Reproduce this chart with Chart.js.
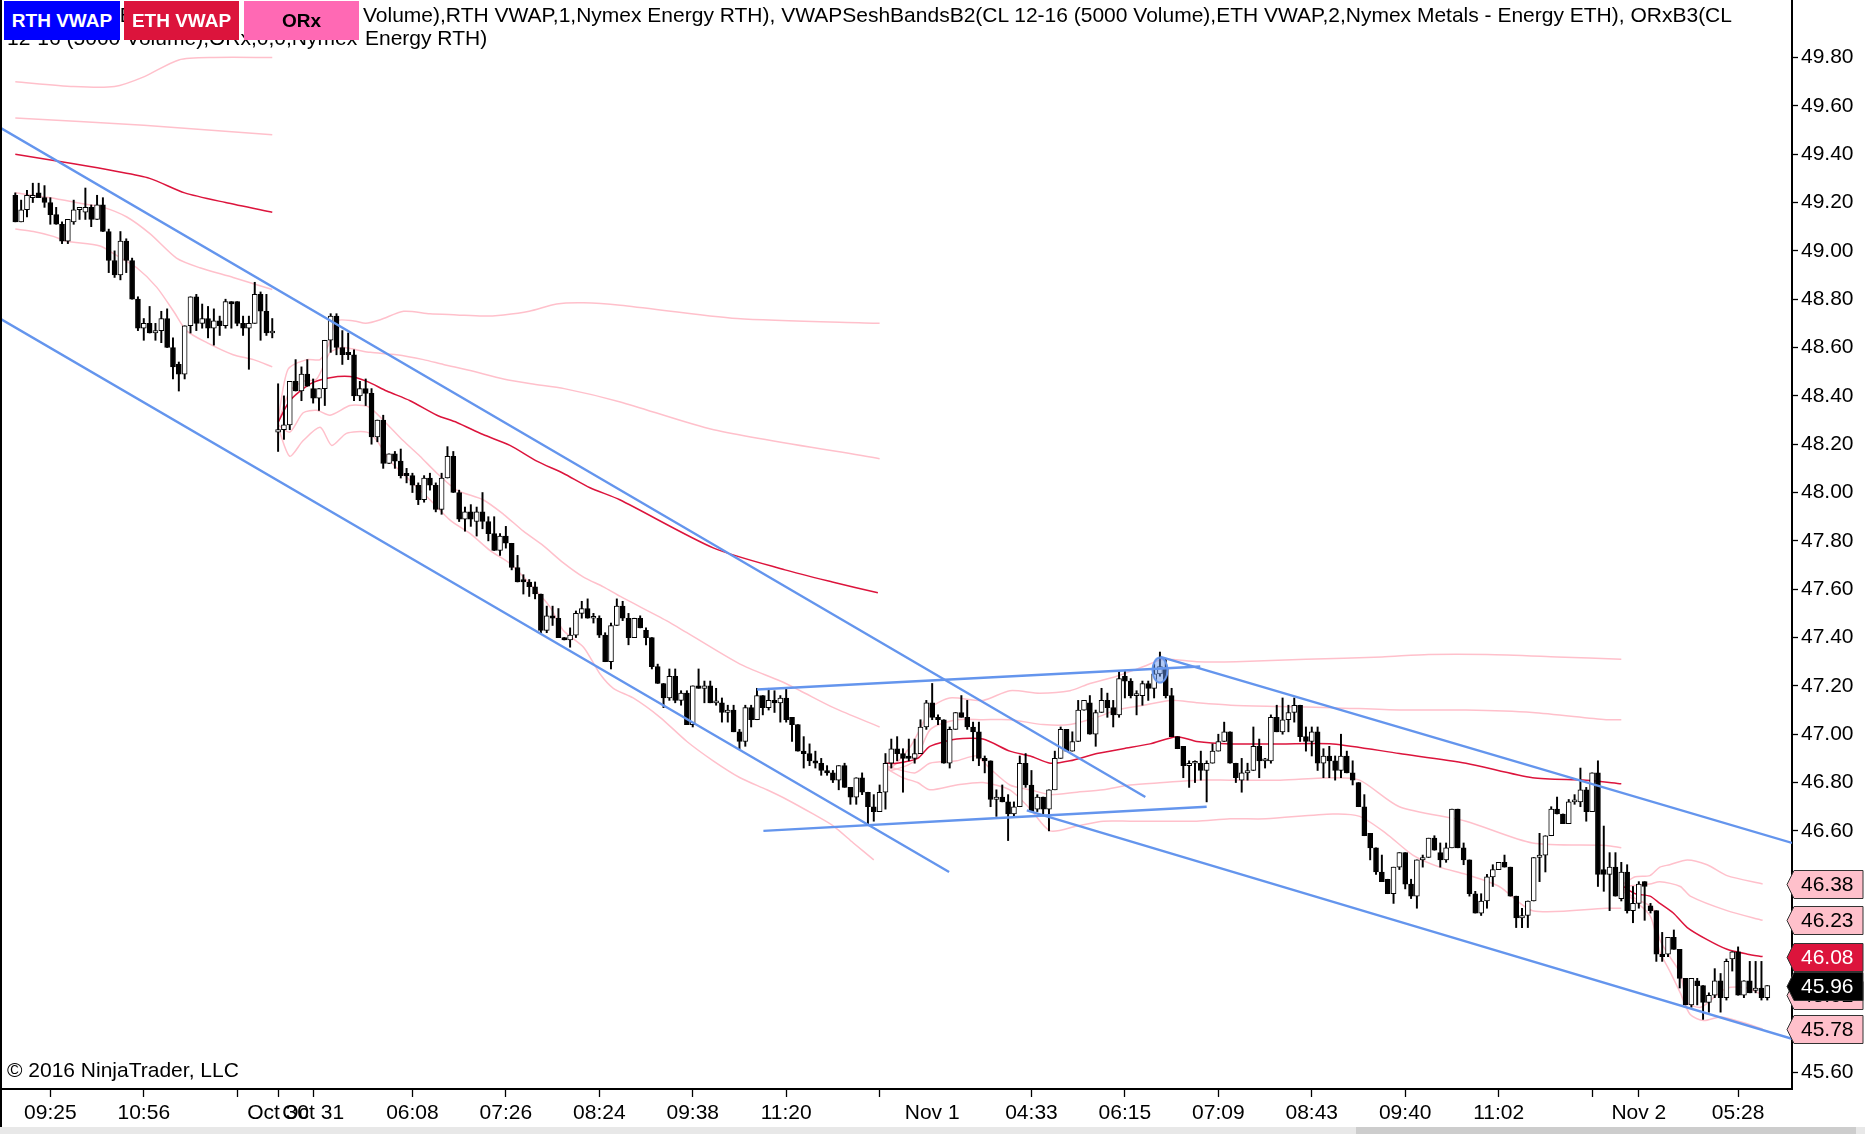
<!DOCTYPE html>
<html>
<head>
<meta charset="utf-8">
<script src="https://cdn.jsdelivr.net/npm/chart.js@4.4.1/dist/chart.umd.min.js"></script>
<style>
  html,body{margin:0;padding:0;background:#fff;}
  #wrap{position:relative;width:1865px;height:1134px;overflow:hidden;background:#fff;font-family:Arial,"Liberation Sans",sans-serif;}
  #c{position:absolute;left:0;top:0;}
  .hl{position:absolute;white-space:nowrap;font-size:21px;line-height:22px;color:#000;}
  .btn{position:absolute;top:1px;height:39px;line-height:39px;text-align:center;font-weight:bold;font-size:19px;}
  #lborder{position:absolute;left:0;top:0;width:2px;height:1127px;background:#000;}
  #scroll{position:absolute;left:0;top:1127px;width:1865px;height:7px;background:#e8e8e8;}
  #thumb{position:absolute;left:1356px;top:1127px;width:500px;height:7px;background:#cdcdcd;}
</style>
</head>
<body>
<div id="wrap">
  <canvas id="c"></canvas>
  <div class="hl" style="right:1502px;top:4px;">VWAPSeshBandsB2(CL 12-16 (5000&nbsp;</div>
  <div class="hl" style="left:363px;top:4px;">Volume),RTH VWAP,1,Nymex Energy RTH), VWAPSeshBandsB2(CL 12-16 (5000 Volume),ETH VWAP,2,Nymex Metals - Energy ETH), ORxB3(CL</div>
  <div class="hl" style="right:1502px;top:27px;">12-16 (5000 Volume),ORx,0,0,Nymex&nbsp;</div>
  <div class="hl" style="left:365px;top:27px;">Energy RTH)</div>
  <div class="btn" style="left:4px;width:116px;background:#0000FF;color:#fff;">RTH VWAP</div>
  <div class="btn" style="left:124px;width:115px;background:#DC143C;color:#fff;">ETH VWAP</div>
  <div class="btn" style="left:244px;width:115px;background:#FF69B4;color:#000;">ORx</div>
  <div class="hl" style="left:7px;top:1059px;">© 2016 NinjaTrader, LLC</div>
  <div id="lborder"></div>
  <div id="scroll"></div>
  <div id="thumb"></div>
</div>
<script>
// ---------- candle data (bar index 1..301) ----------
const opens = [
49.23,49.12,49.17,49.22,49.24,49.22,49.20,49.15,49.11,49.04,
49.12,49.17,49.16,49.18,49.13,49.19,49.08,48.96,48.90,49.04,
48.96,48.80,48.68,48.70,48.66,48.67,48.72,48.60,48.53,48.49,
48.69,48.81,48.70,48.72,48.68,48.71,48.69,48.79,48.79,48.70,
48.68,48.70,48.82,48.75,48.66,48.25,48.26,48.28,48.46,48.42,
48.49,48.43,48.39,48.43,48.63,48.73,48.60,48.58,48.57,48.40,
48.43,48.41,48.23,48.30,48.12,48.16,48.13,48.08,48.07,48.03,
47.97,48.06,48.03,47.93,48.06,48.15,48.00,47.89,47.92,47.88,
47.92,47.88,47.83,47.76,47.82,47.79,47.69,47.64,47.63,47.61,
47.58,47.43,47.49,47.48,47.40,47.39,47.41,47.50,47.52,47.48,
47.48,47.41,47.30,47.45,47.53,47.48,47.40,47.48,47.43,47.40,
47.28,47.21,47.15,47.24,47.14,47.17,47.04,47.20,47.19,47.20,
47.13,47.13,47.09,47.10,47.01,46.97,47.11,47.06,47.16,47.11,
47.14,47.13,47.15,47.07,47.04,46.93,46.92,46.89,46.88,46.85,
46.84,46.81,46.87,46.78,46.74,46.82,46.76,46.70,46.68,46.76,
46.88,46.94,46.92,46.91,46.90,46.92,47.03,47.13,47.07,47.06,
46.88,47.02,47.09,47.07,47.03,47.01,46.90,46.89,46.73,46.74,
46.72,46.67,46.70,46.88,46.79,46.69,46.74,46.69,46.77,46.90,
47.02,46.93,46.97,47.10,47.13,47.00,47.09,47.14,47.11,47.08,
47.24,47.22,47.16,47.16,47.21,47.19,47.25,47.27,47.16,46.99,
46.95,46.87,46.88,46.88,46.85,46.88,46.93,46.97,47.01,46.88,
46.81,46.84,46.85,46.95,46.89,46.89,47.07,47.01,47.06,47.09,
47.12,46.99,46.97,47.01,46.88,46.91,46.89,46.85,46.91,46.84,
46.80,46.70,46.59,46.53,46.43,46.40,46.34,46.45,46.51,46.38,
46.33,46.48,46.49,46.57,46.51,46.48,46.53,46.69,46.53,46.48,
46.34,46.26,46.31,46.41,46.44,46.47,46.45,46.33,46.24,46.25,
46.31,46.49,46.50,46.58,46.69,46.67,46.63,46.72,46.72,46.77,
46.68,46.84,46.44,46.42,46.45,46.32,46.43,46.27,46.30,46.39,
46.29,46.27,46.09,46.09,46.16,46.11,45.99,45.88,45.98,45.96,
45.89,45.92,45.98,45.91,46.07,46.10,45.92,45.98,45.94,45.95,45.91];
const highs = [
49.24,49.21,49.25,49.28,49.28,49.27,49.22,49.18,49.12,49.13,
49.21,49.18,49.26,49.19,49.23,49.22,49.09,49.00,49.08,49.05,
48.97,48.81,48.72,48.77,48.70,48.75,48.76,48.64,48.54,48.69,
48.81,48.82,48.78,48.77,48.76,48.73,48.80,48.79,48.79,48.73,
48.73,48.87,48.83,48.82,48.72,48.45,48.40,48.46,48.55,48.52,
48.55,48.47,48.43,48.63,48.74,48.74,48.67,48.66,48.59,48.46,
48.47,48.43,48.30,48.32,48.16,48.17,48.18,48.10,48.08,48.04,
48.07,48.08,48.04,48.08,48.19,48.17,48.01,47.94,47.95,47.94,
48.00,47.90,47.90,47.83,47.86,47.79,47.74,47.66,47.64,47.63,
47.58,47.53,47.53,47.52,47.40,47.44,47.51,47.55,47.56,47.50,
47.49,47.42,47.46,47.56,47.55,47.50,47.48,47.49,47.44,47.40,
47.29,47.21,47.27,47.27,47.18,47.18,47.20,47.27,47.22,47.22,
47.19,47.15,47.12,47.12,47.02,47.12,47.12,47.19,47.16,47.19,
47.18,47.16,47.19,47.07,47.04,46.99,46.96,46.93,46.90,46.87,
46.85,46.87,46.88,46.78,46.82,46.84,46.76,46.75,46.79,46.92,
46.98,46.99,46.94,46.98,46.98,47.06,47.14,47.21,47.08,47.06,
47.03,47.09,47.16,47.14,47.05,47.05,46.91,46.89,46.77,46.79,
46.75,46.72,46.91,46.92,46.85,46.75,46.74,46.77,46.93,47.03,
47.02,47.01,47.14,47.14,47.16,47.10,47.19,47.17,47.14,47.26,
47.26,47.23,47.18,47.22,47.22,47.29,47.34,47.31,47.19,46.99,
46.95,46.89,46.89,46.93,46.89,46.96,47.00,47.05,47.01,46.88,
46.90,46.88,47.03,46.98,46.90,47.08,47.12,47.15,47.12,47.15,
47.12,47.03,47.03,47.03,46.94,46.95,46.91,47.00,46.93,46.89,
46.80,46.75,46.59,46.53,46.50,46.40,46.45,46.51,46.51,46.40,
46.48,46.50,46.57,46.58,46.55,46.55,46.69,46.69,46.55,46.48,
46.35,46.34,46.42,46.46,46.47,46.50,46.45,46.33,46.28,46.31,
46.49,46.59,46.58,46.70,46.74,46.67,46.73,46.75,46.86,46.78,
46.84,46.89,46.62,46.51,46.51,46.47,46.46,46.37,46.39,46.39,
46.30,46.27,46.18,46.16,46.19,46.11,45.99,45.99,45.99,45.96,
45.93,46.03,46.01,46.07,46.10,46.12,45.98,46.06,46.06,46.06,45.96];
const lows = [
49.12,49.12,49.14,49.20,49.22,49.18,49.11,49.11,49.03,49.03,
49.11,49.13,49.13,49.10,49.13,49.08,48.91,48.89,48.88,48.91,
48.80,48.67,48.63,48.66,48.63,48.62,48.60,48.47,48.42,48.47,
48.66,48.67,48.68,48.64,48.61,48.65,48.68,48.68,48.69,48.65,
48.51,48.70,48.63,48.65,48.64,48.17,48.22,48.26,48.42,48.38,
48.44,48.37,48.34,48.36,48.58,48.57,48.53,48.55,48.38,48.38,
48.36,48.20,48.21,48.10,48.12,48.10,48.06,48.04,48.00,47.95,
47.96,48.01,47.92,47.91,48.06,48.00,47.88,47.84,47.86,47.82,
47.85,47.80,47.76,47.74,47.77,47.68,47.63,47.58,47.57,47.56,
47.42,47.42,47.45,47.40,47.39,47.36,47.40,47.48,47.48,47.46,
47.40,47.30,47.27,47.45,47.47,47.37,47.40,47.44,47.37,47.27,
47.21,47.11,47.14,47.13,47.12,47.04,47.03,47.19,47.13,47.13,
47.12,47.05,47.05,47.01,46.94,46.95,47.03,47.06,47.08,47.10,
47.09,47.05,47.05,46.97,46.93,46.86,46.87,46.86,46.83,46.83,
46.80,46.77,46.78,46.71,46.71,46.75,46.63,46.64,46.68,46.69,
46.86,46.89,46.76,46.89,46.88,46.92,47.02,47.06,47.04,46.88,
46.86,47.02,47.07,47.02,46.89,46.87,46.84,46.70,46.66,46.72,
46.56,46.66,46.70,46.78,46.68,46.68,46.67,46.60,46.77,46.90,
46.93,46.93,46.97,47.10,47.00,46.95,47.09,47.07,47.03,47.07,
47.15,47.15,47.08,47.12,47.14,47.15,47.24,47.15,46.99,46.94,
46.82,46.78,46.80,46.81,46.72,46.88,46.93,46.97,46.88,46.80,
46.76,46.81,46.85,46.82,46.86,46.88,47.01,47.00,47.01,47.05,
46.97,46.93,46.91,46.85,46.82,46.82,46.81,46.82,46.84,46.79,
46.70,46.58,46.48,46.42,46.39,46.34,46.30,46.44,46.36,46.32,
46.28,46.45,46.49,46.52,46.45,46.47,46.53,46.53,46.46,46.33,
46.26,46.25,46.28,46.37,46.44,46.45,46.33,46.20,46.20,46.20,
46.31,46.39,46.43,46.58,46.67,46.63,46.63,46.71,46.70,46.64,
46.68,46.37,46.35,46.27,46.33,46.31,46.26,46.22,46.28,46.23,
46.26,46.06,46.06,46.08,46.11,45.95,45.88,45.87,45.88,45.82,
45.85,45.91,45.85,45.90,46.02,45.92,45.91,45.93,45.93,45.90,45.90];
const closes = [
49.12,49.17,49.23,49.23,49.22,49.20,49.15,49.11,49.04,49.13,
49.17,49.18,49.18,49.13,49.19,49.08,48.96,48.90,49.04,48.96,
48.80,48.68,48.70,48.66,48.67,48.72,48.60,48.52,48.49,48.69,
48.81,48.70,48.72,48.68,48.71,48.69,48.79,48.78,48.70,48.68,
48.70,48.82,48.75,48.66,48.66,48.26,48.28,48.46,48.42,48.49,
48.44,48.39,48.43,48.63,48.73,48.60,48.57,48.57,48.40,48.43,
48.41,48.23,48.30,48.12,48.16,48.13,48.07,48.07,48.03,47.97,
48.06,48.03,47.93,48.06,48.15,48.00,47.89,47.92,47.89,47.92,
47.88,47.83,47.76,47.82,47.79,47.69,47.63,47.63,47.61,47.58,
47.43,47.49,47.48,47.40,47.39,47.41,47.50,47.52,47.48,47.48,
47.41,47.30,47.45,47.53,47.48,47.40,47.48,47.44,47.40,47.28,
47.21,47.15,47.24,47.14,47.17,47.04,47.20,47.19,47.20,47.13,
47.13,47.09,47.10,47.01,46.97,47.11,47.06,47.16,47.11,47.14,
47.13,47.15,47.06,47.04,46.93,46.92,46.89,46.88,46.85,46.84,
46.81,46.87,46.78,46.74,46.82,46.76,46.70,46.68,46.76,46.88,
46.94,46.92,46.90,46.90,46.92,47.03,47.13,47.07,47.06,46.88,
47.02,47.09,47.07,47.03,47.01,46.90,46.89,46.73,46.74,46.72,
46.67,46.70,46.88,46.79,46.68,46.74,46.69,46.77,46.90,47.02,
46.93,46.97,47.10,47.14,47.00,47.09,47.14,47.11,47.08,47.23,
47.22,47.16,47.16,47.21,47.19,47.25,47.28,47.16,46.99,46.94,
46.87,46.88,46.88,46.85,46.88,46.93,46.97,47.01,46.88,46.82,
46.84,46.85,46.95,46.89,46.89,47.07,47.01,47.06,47.09,47.12,
46.99,46.97,47.01,46.88,46.91,46.89,46.85,46.91,46.84,46.81,
46.70,46.58,46.53,46.43,46.39,46.34,46.45,46.51,46.38,46.33,
46.48,46.49,46.57,46.52,46.48,46.53,46.69,46.53,46.48,46.34,
46.26,46.31,46.41,46.44,46.47,46.45,46.33,46.24,46.25,46.31,
46.49,46.50,46.58,46.69,46.67,46.63,46.72,46.72,46.77,46.68,
46.84,46.42,46.42,46.45,46.33,46.43,46.27,46.30,46.38,46.37,
46.27,46.09,46.08,46.16,46.11,45.99,45.88,45.99,45.96,45.89,
45.92,45.98,45.91,46.06,46.10,45.92,45.98,45.93,45.95,45.91,45.96];

// ---------- axis ticks ----------
const yTicks = [45.6,45.8,46.0,46.2,46.4,46.6,46.8,47.0,47.2,47.4,47.6,47.8,48.0,48.2,48.4,48.6,48.8,49.0,49.2,49.4,49.6,49.8];
const xTickPos    = [7, 23, 39, 46, 52, 69, 85, 101, 117, 133, 149, 158, 175, 191, 207, 223, 239, 255, 271, 279, 296];
const xTickLabels = ['09:25','10:56','','Oct 30','Oct 31','06:08','07:26','08:24','09:38','11:20','','Nov 1','04:33','06:15','07:09','08:43','09:40','11:02','','Nov 2','05:28'];
const xTickHidden = xTickLabels.map(l => l === 'Nov 1');

// ---------- VWAP lines and bands, [bar index, price] ----------
const s1TopBand = [[1,49.70],[11,49.68],[18,49.68],[23,49.72],[29,49.79],[35,49.80],[45,49.80]];
const s1Band2   = [[1,49.55],[23,49.52],[45,49.48]];
const s1Vwap    = [[1,49.40],[11,49.36],[18,49.33],[24,49.30],[30,49.24],[37,49.20],[45,49.16]];
const s1BandUp  = [[1,49.24],[7,49.22],[12.6,49.195],[16.1,49.18],[20.1,49.14],[24.1,49.07],[28.6,48.97],[32.6,48.93],[38.3,48.89],[45,48.84]];
const s1BandLo  = [[1,49.09],[4.1,49.08],[7.5,49.06],[9.8,49.04],[15.5,49.02],[18.4,48.98],[21.8,48.93],[25.2,48.85],[28.1,48.75],[30.3,48.67],[33.8,48.62],[38.3,48.57],[41.8,48.55],[45,48.52]];

const s2Vwap = [[46,48.29],[48,48.38],[51.5,48.45],[54.9,48.475],[58.3,48.48],[61.2,48.46],[64.6,48.42],[68.6,48.38],[73.2,48.32],[76.6,48.29],[81.1,48.24],[85.7,48.195],[90.3,48.13],[94.8,48.08],[99.4,48.02],[104.5,47.97],[120.6,47.77],[132.8,47.68],[140.9,47.63],[148.7,47.585]];
const s2Top  = [[46,48.30],[47.7,48.51],[50.9,48.55],[53.2,48.55],[54.6,48.61],[56,48.71],[59,48.71],[61,48.70],[63.5,48.715],[67.5,48.75],[72,48.74],[76.6,48.735],[81,48.73],[84.6,48.735],[89,48.75],[93.7,48.78],[98.3,48.785],[104.6,48.775],[124.6,48.72],[149,48.70]];
const s2B    = [[46,48.29],[48,48.42],[50.3,48.46],[52.6,48.47],[54.9,48.58],[57.2,48.60],[59.5,48.59],[61.8,48.58],[66.3,48.57],[70.9,48.55],[74.3,48.53],[78.9,48.505],[84.6,48.47],[89.3,48.45],[95,48.43],[104.6,48.375],[120.6,48.26],[149,48.14]];
const s2C    = [[46,48.28],[48,48.25],[50.3,48.33],[52.6,48.34],[54.9,48.32],[58.3,48.36],[60.6,48.36],[61.8,48.35],[64.6,48.285],[67.4,48.215],[70.3,48.15],[73.2,48.08],[76.6,48.01],[81.1,47.97],[84.6,47.91],[88,47.84],[91.4,47.78],[94.8,47.71],[98.3,47.65],[101.7,47.61],[104.6,47.57],[112.5,47.47],[116,47.42],[125.1,47.29],[132,47.22],[135.4,47.18],[141.1,47.11],[149,47.03]];
const s2D    = [[46,48.27],[48,48.15],[50.3,48.215],[53.2,48.27],[55.2,48.195],[57.7,48.245],[61.2,48.25],[62.9,48.215],[65.2,48.13],[68.6,48.05],[72,47.97],[75.5,47.885],[78.9,47.83],[82.3,47.76],[85.8,47.705],[89.2,47.62],[92.6,47.525],[94.8,47.43],[98.3,47.36],[101.1,47.25],[103.4,47.19],[106.8,47.15],[111.4,47.07],[116,46.97],[120.5,46.89],[125.1,46.82],[129.7,46.77],[133.1,46.73],[137.6,46.67],[141.1,46.62],[144.5,46.55],[148,46.48]];

const s3Vwap = [[150,46.88],[152,46.88],[155.5,46.90],[157.6,46.95],[162.2,46.98],[166.7,46.98],[171.3,46.93],[174.8,46.91],[178.2,46.88],[181.6,46.89],[186.2,46.92],[190.7,46.94],[195.3,46.96],[199.9,46.99],[203.3,46.97],[209,46.96],[217.6,46.96],[226.6,46.96],[238,46.92],[249.4,46.88],[260.8,46.82],[270,46.81],[276,46.795]];
const s3P1   = [[150,46.88],[150.9,46.86],[154.3,46.95],[156.7,47.06],[157.7,47.11],[161,47.15],[166.7,47.14],[171.3,47.18],[176.4,47.17],[181.6,47.18],[185,47.21],[189.6,47.24],[194.2,47.28],[197.6,47.31],[203.3,47.30],[210,47.30],[222,47.31],[235,47.32],[243,47.33],[253,47.33],[265,47.32],[276,47.31]];
const s3P2   = [[150,46.87],[150.9,46.85],[155,46.89],[157.7,47.02],[162.2,47.06],[166.7,47.06],[171.3,47.06],[177,47.04],[181.6,47.04],[186.2,47.07],[189.6,47.10],[194.2,47.12],[198.8,47.14],[203.3,47.13],[209.1,47.12],[217.6,47.115],[226.6,47.11],[238,47.10],[249.4,47.10],[260.8,47.09],[273.4,47.06],[276,47.06]];
const s3P3   = [[150,46.87],[155,46.84],[157.6,46.88],[162.2,46.89],[165.6,46.91],[167.8,46.86],[171.3,46.79],[174.8,46.77],[178.2,46.75],[182.8,46.76],[187.3,46.77],[191.9,46.79],[197.6,46.80],[203.3,46.81],[209,46.81],[217.6,46.81],[226.6,46.82],[231.2,46.81],[238,46.70],[249.4,46.64],[260.8,46.55],[273.4,46.54],[276,46.53]];
const s3P4   = [[150,46.86],[153,46.82],[155.5,46.80],[157.6,46.77],[162.2,46.79],[166.7,46.80],[171.3,46.77],[174.8,46.69],[178.2,46.60],[182.8,46.62],[187.3,46.64],[191.9,46.64],[197.6,46.64],[203.3,46.64],[209,46.65],[215.1,46.65],[226.6,46.67],[231.2,46.66],[235.7,46.59],[240.3,46.50],[244.9,46.45],[249.4,46.42],[255.1,46.37],[260.8,46.27],[273.4,46.28],[276,46.28]];

const s4Vwap = [[276.3,46.37],[278.4,46.34],[280.9,46.33],[282.6,46.30],[284.9,46.26],[287.3,46.20],[290.7,46.15],[294.1,46.11],[297.6,46.09],[300.2,46.08]];
const s4Top  = [[276.3,46.38],[278.4,46.41],[280.9,46.415],[282.6,46.45],[284.3,46.46],[287.3,46.48],[290.7,46.46],[294.1,46.415],[300.2,46.38]];
const s4B2   = [[276.3,46.37],[280.9,46.38],[282.6,46.39],[286.1,46.37],[287.8,46.33],[294.1,46.27],[300.2,46.23]];
const s4B3   = [[276.3,46.36],[278.4,46.32],[281.4,46.28],[282.6,46.15],[284.3,46.08],[286.1,46.01],[287.3,45.89],[289.6,45.87],[291.8,45.91],[294.1,45.95],[297.6,45.95],[300.2,45.92]];
const s4B4   = [[276.3,46.35],[280.9,46.25],[282.6,46.10],[284.3,46.02],[286.1,45.93],[287.8,45.84],[290.1,45.815],[293,45.83],[296.4,45.81],[300.2,45.78]];

// ---------- drawn trend lines [bar index, price] ----------
const trendUpperA = [[-1.62,49.51],[194.5,46.74]];
const trendLowerA = [[-1.62,48.72],[160.9,46.43]];
const rangeTop    = [[128,47.185],[203.9,47.28]];
const rangeBottom = [[129.1,46.60],[205,46.70]];
const trendUpperB = [[197.1,47.32],[305.23,46.55]];
const trendLowerB = [[174.2,46.685],[305.23,45.74]];
const markerPoint = [[197,47.265]];

// ---------- right-axis price tags ----------
const tagValues = [45.92, 46.38, 46.23, 45.78, 46.08, 45.96];
const tagFill   = ['#FFC0CB','#FFC0CB','#FFC0CB','#FFC0CB','#DC143C','#000000'];
const tagText   = ['#000','#000','#000','#000','#fff','#fff'];

// ---------- view ----------
const X_MIN = -1.62, X_MAX = 305.23;
const Y_MIN = 45.532, Y_MAX = 50.038;

const idx = opens.map((_, i) => i + 1);
const pts = arr => arr.map(([x, y]) => ({x, y}));
const PINK = 'rgb(255,192,203)';
const CRIMSON = '#DC143C';
const BLUE = '#6495ED';

// elliptical marker glyph for the highlighted bar
const markerGlyph = (() => {
  const c = document.createElement('canvas');
  c.width = 18; c.height = 28;
  const g = c.getContext('2d');
  g.beginPath();
  g.ellipse(9, 14, 7.5, 12.5, 0, 0, Math.PI * 2);
  g.fillStyle = 'rgba(100,149,237,0.5)';
  g.fill();
  g.lineWidth = 2;
  g.strokeStyle = BLUE;
  g.stroke();
  return c;
})();

const lineDs = (arr, color, w) => ({
  type: 'line', data: pts(arr), borderColor: color, borderWidth: w,
  pointRadius: 0, fill: false, tension: 0.25
});

const datasets = [
  { type: 'scatter', data: pts(markerPoint), pointRadius: 12, pointStyle: markerGlyph },
  lineDs(trendUpperA, BLUE, 2.4),
  lineDs(trendLowerA, BLUE, 2.4),
  lineDs(rangeTop, BLUE, 2.4),
  lineDs(rangeBottom, BLUE, 2.4),
  lineDs(trendUpperB, BLUE, 2.4),
  lineDs(trendLowerB, BLUE, 2.4),
  { type: 'bar', grouped: false, barThickness: 5, minBarLength: 2,
    data: idx.map((x, i) => ({x, y: [opens[i], closes[i]]})),
    backgroundColor: c => closes[c.dataIndex] >= opens[c.dataIndex] ? '#ffffff' : '#000000',
    borderColor: '#000', borderWidth: 1, borderSkipped: false },
  { type: 'bar', grouped: false, barThickness: 1.3,
    data: idx.map((x, i) => ({x, y: [lows[i], highs[i]]})),
    backgroundColor: '#000', borderWidth: 0 },
  lineDs(s1Vwap, CRIMSON, 1.5), lineDs(s2Vwap, CRIMSON, 1.5), lineDs(s3Vwap, CRIMSON, 1.5), lineDs(s4Vwap, CRIMSON, 1.5),
  lineDs(s1TopBand, PINK, 1.5), lineDs(s1Band2, PINK, 1.5), lineDs(s1BandUp, PINK, 1.5), lineDs(s1BandLo, PINK, 1.5),
  lineDs(s2Top, PINK, 1.5), lineDs(s2B, PINK, 1.5), lineDs(s2C, PINK, 1.5), lineDs(s2D, PINK, 1.5),
  lineDs(s3P1, PINK, 1.5), lineDs(s3P2, PINK, 1.5), lineDs(s3P3, PINK, 1.5), lineDs(s3P4, PINK, 1.5),
  lineDs(s4Top, PINK, 1.5), lineDs(s4B2, PINK, 1.5), lineDs(s4B3, PINK, 1.5), lineDs(s4B4, PINK, 1.5)
];

const priceTags = {
  id: 'priceTags',
  afterDraw(chart) {
    const ctx = chart.ctx, ys = chart.scales.y, x0 = ys.left;
    ctx.save();
    ctx.font = '21px Arial, "Liberation Sans", sans-serif';
    ctx.textBaseline = 'middle';
    ctx.textAlign = 'left';
    tagValues.forEach((v, i) => {
      const y = Math.round(ys.getPixelForValue(v)) + 0.5;
      ctx.beginPath();
      ctx.moveTo(x0 - 5, y);
      ctx.lineTo(x0 + 2, y - 14);
      ctx.lineTo(1863, y - 14);
      ctx.lineTo(1863, y + 14);
      ctx.lineTo(x0 + 2, y + 14);
      ctx.closePath();
      ctx.fillStyle = tagFill[i];
      ctx.fill();
      ctx.strokeStyle = '#333';
      ctx.lineWidth = 1;
      ctx.stroke();
      ctx.fillStyle = tagText[i];
      ctx.fillText(v.toFixed(2), x0 + 9, y + 1);
    });
    ctx.restore();
  }
};

Chart.defaults.font.family = 'Arial, "Liberation Sans", sans-serif';
new Chart(document.getElementById('c'), {
  type: 'bar',
  data: { datasets },
  options: {
    responsive: true, maintainAspectRatio: false, animation: false, devicePixelRatio: 1,
    layout: { padding: 0, autoPadding: false },
    plugins: { legend: { display: false }, tooltip: { enabled: false } },
    scales: {
      x: {
        type: 'linear', position: 'bottom', min: X_MIN, max: X_MAX, offset: false,
        afterFit(s) { s.height = 45; s.paddingLeft = 0; s.paddingRight = 0; },
        afterBuildTicks(s) { s.ticks = xTickPos.map(v => ({ value: v })); },
        ticks: { autoSkip: false, maxRotation: 0, minRotation: 0, padding: 4, color: '#000',
                 font: { size: 21 }, callback: (v, i) => xTickLabels[i] },
        grid: { offset: false, drawOnChartArea: false, drawTicks: true, tickLength: 8, tickWidth: 1.3,
                tickColor: c => xTickHidden[c.index] ? 'rgba(0,0,0,0)' : '#000' },
        border: { display: true, color: '#000', width: 2 }
      },
      y: {
        type: 'linear', position: 'right', min: Y_MIN, max: Y_MAX,
        afterFit(s) { s.width = 73; s.paddingTop = 0; s.paddingBottom = 0; },
        afterBuildTicks(s) { s.ticks = yTicks.map(v => ({ value: v })); },
        ticks: { padding: 3, color: '#000', font: { size: 21 }, callback: v => v.toFixed(2) },
        grid: { offset: false, drawOnChartArea: false, drawTicks: true, tickLength: 6, tickColor: '#000', tickWidth: 1.3 },
        border: { display: true, color: '#000', width: 2 }
      }
    }
  },
  plugins: [priceTags]
});
</script>
</body>
</html>
